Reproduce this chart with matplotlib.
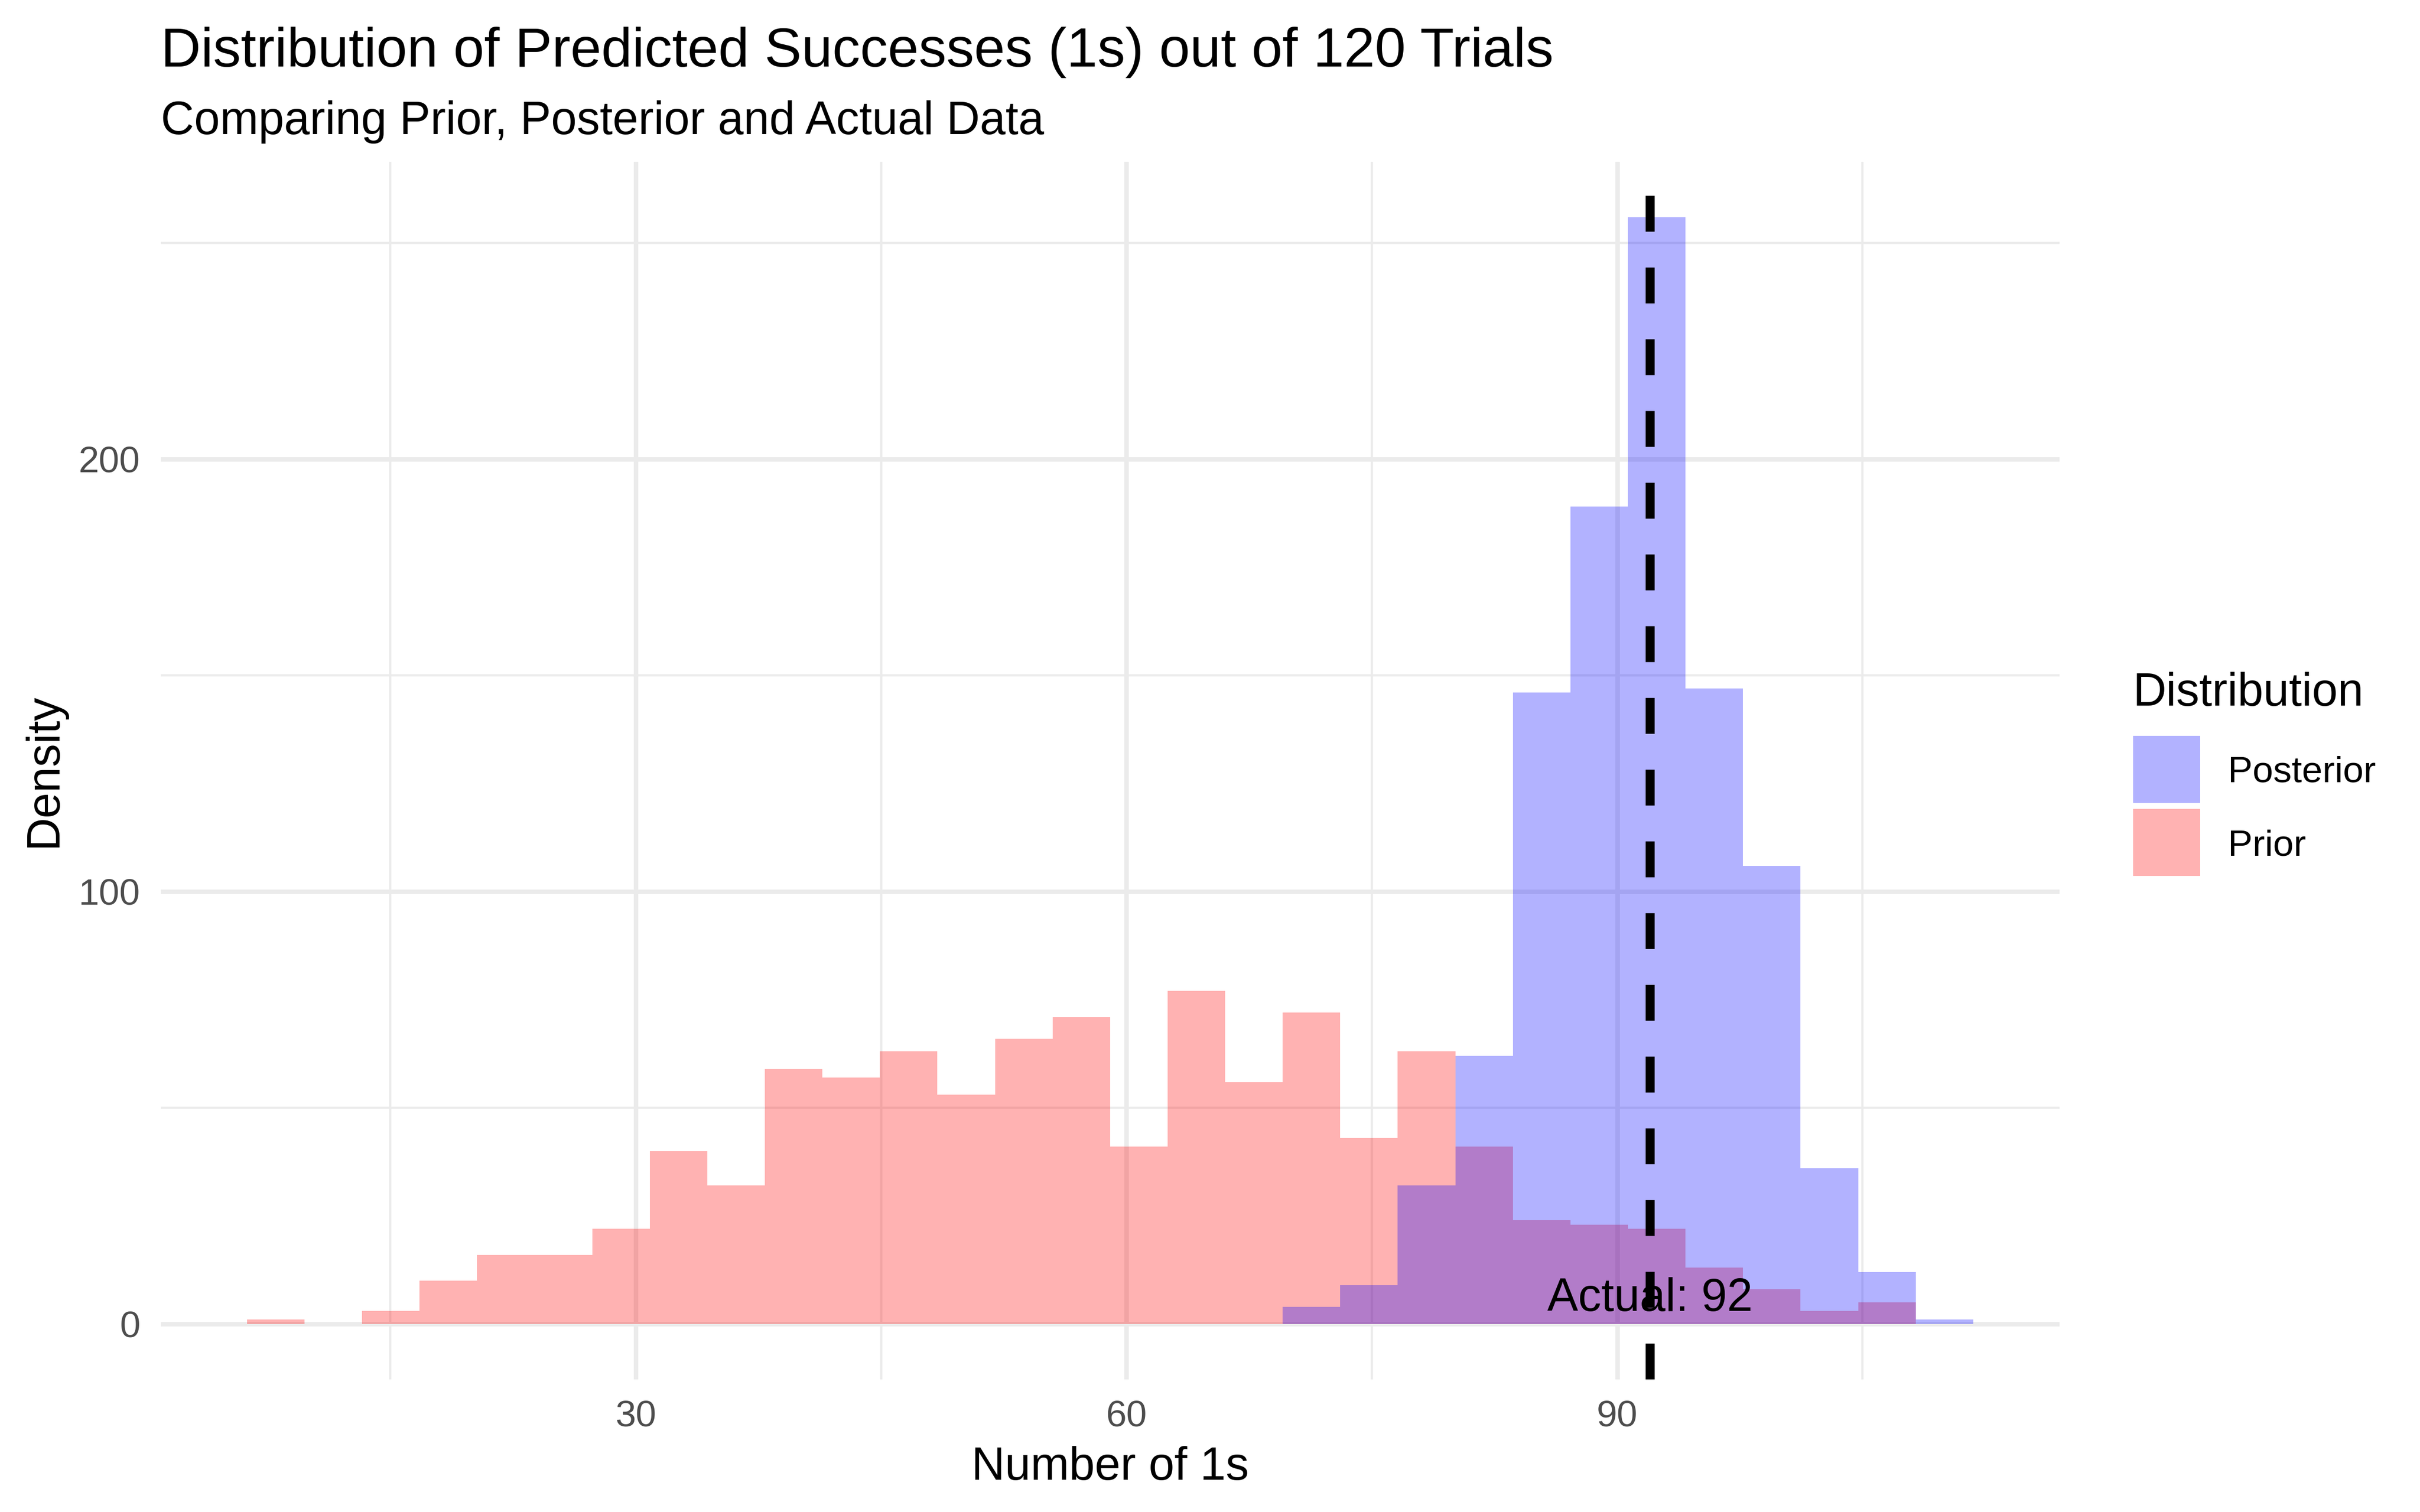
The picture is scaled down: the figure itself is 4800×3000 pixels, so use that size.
import numpy as np
import matplotlib.pyplot as plt
from matplotlib.patches import Rectangle

plt.rcParams['font.family'] = ['Liberation Sans', 'DejaVu Sans']

# 30 shared bins, centres running from 8 to 110
bin_first, bin_last, n_bins = 8, 110, 30
prior_counts = [1, 0, 3, 10, 16, 16, 22, 40, 32, 59, 57, 63, 53, 66, 71,
                41, 77, 56, 72, 43, 63, 41, 24, 23, 22, 13, 8, 3, 5, 0]
posterior_counts = [0, 0, 0, 0, 0, 0, 0, 0, 0, 0, 0, 0, 0, 0, 0,
                    0, 0, 0, 4, 9, 32, 62, 146, 189, 256, 147, 106, 36, 12, 1]
actual = 92
x_ticks = [30, 60, 90]
x_minor = [15, 45, 75, 105]
y_ticks = [0, 100, 200]
y_minor = [50, 150, 250]

centers = np.linspace(bin_first, bin_last, n_bins)
bw = centers[1] - centers[0]

W, H = 4800, 3000
fig = plt.figure(figsize=(16, 10), dpi=300)

# panel box in pixels (ggplot style layout)
left, right, top, bottom = 318.6, 4085, 320.7, 2736.8
ax = fig.add_axes([left / W, 1 - bottom / H, (right - left) / W, (bottom - top) / H])

blue = (0, 0, 1, 0.3)
red = (1, 0, 0, 0.3)
ax.bar(centers, prior_counts, width=bw, color=red, linewidth=0, zorder=2)
ax.bar(centers, posterior_counts, width=bw, color=blue, linewidth=0, zorder=2.1)

ax.axvline(actual, color='black', linewidth=4.27, linestyle=(0, (4, 4)), zorder=3)
ax.text(actual, 3, f'Actual: {actual}', ha='center', va='baseline', fontsize=22, zorder=4)

# limits with 5% expansion like ggplot
lo, hi = centers[0] - bw / 2, centers[-1] + bw / 2
pad = 0.05 * (hi - lo)
ax.set_xlim(lo - pad, hi + pad)
ymax = max(max(prior_counts), max(posterior_counts))
ax.set_ylim(-0.05 * ymax, 1.05 * ymax)

ax.set_xticks(x_ticks)
ax.set_xticks(x_minor, minor=True)
ax.set_yticks(y_ticks)
ax.set_yticks(y_minor, minor=True)
ax.tick_params(which='both', length=0, pad=9.84, labelsize=17.6, labelcolor='#4D4D4D')
ax.grid(which='major', color='#EBEBEB', linewidth=2.13)
ax.grid(which='minor', color='#EBEBEB', linewidth=1.07)
ax.set_axisbelow(True)
for s in ax.spines.values():
    s.set_visible(False)

# titles and axis titles
fig.text(left / W, 1 - 132 / H, 'Distribution of Predicted Successes (1s) out of 120 Trials',
         fontsize=26.4, ha='left', va='baseline')
fig.text(left / W, 1 - 266 / H, 'Comparing Prior, Posterior and Actual Data',
         fontsize=22, ha='left', va='baseline')
fig.text((left + right) / 2 / W, 1 - 2936 / H, 'Number of 1s', fontsize=22, ha='center', va='baseline')
fig.text(88 / W, 1 - (top + bottom) / 2 / H, 'Density', fontsize=22, rotation=90,
         ha='center', va='center')

# legend
fig.text(4231 / W, 1 - 1400 / H, 'Distribution', fontsize=22, ha='left', va='baseline')
for i, (lab, col) in enumerate([('Posterior', blue), ('Prior', red)]):
    y0 = 1460 + i * 145
    fig.add_artist(Rectangle((4231 / W, 1 - (y0 + 133) / H), 133 / W, 133 / H,
                             transform=fig.transFigure, facecolor=col, linewidth=0))
    fig.text(4419 / W, 1 - (y0 + 92) / H, lab, fontsize=17.6, ha='left', va='baseline')

fig.savefig('out.png', dpi=300)
